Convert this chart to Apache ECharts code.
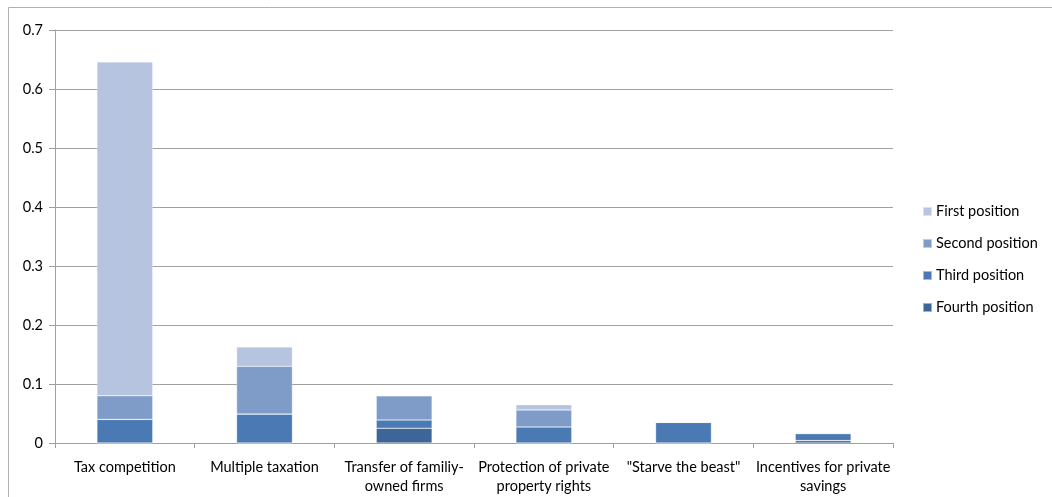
<!DOCTYPE html>
<html><head><meta charset="utf-8">
<script src="https://cdn.jsdelivr.net/npm/echarts@6/dist/echarts.min.js"></script>
<style>html,body{margin:0;padding:0;background:#fff}#c{width:1052px;height:497px}</style>
</head><body><div id="c"></div>
<script>
const categories = ["Tax competition", "Multiple taxation", "Transfer of familiy-\nowned firms", "Protection of private\nproperty rights", "\"Starve the beast\"", "Incentives for private\nsavings"];
const firstPosition  = [0.566, 0.033, 0,     0.009, 0,     0];
const secondPosition = [0.040, 0.081, 0.041, 0.029, 0,     0];
const thirdPosition  = [0.040, 0.049, 0.014, 0.027, 0.035, 0.012];
const fourthPosition = [0,     0,     0.025, 0,     0,     0.004];
const yTicks = { min: 0, max: 0.7, interval: 0.1 };

const font = "Lato, 'Open Sans', sans-serif";
const chart = echarts.init(document.getElementById('c'), null, {renderer: 'canvas'});
function s(name, data, color) {
  return { name, type: 'bar', stack: 'all', data, barWidth: '40%',
    itemStyle: { color, borderColor: 'rgba(255,255,255,0.5)', borderWidth: 0.6 },
    emphasis: { disabled: true } };
}
chart.setOption({
  animation: false,
  backgroundColor: '#fff',
  graphic: [{ type: 'rect', shape: { x: 8.5, y: 7.5, width: 1100, height: 600 },
    style: { fill: 'none', stroke: '#b0b0b0', lineWidth: 1 }, silent: true }],
  grid: { left: 55, right: 159, top: 30, bottom: 54 },
  legend: {
    orient: 'vertical', left: 917, top: 199, itemWidth: 9, itemHeight: 9, itemGap: 17,
    icon: 'rect',
    data: ['First position', 'Second position', 'Third position', 'Fourth position'],
    textStyle: { fontFamily: font, fontSize: 14.5, color: '#000', padding: [0, 0, 0, -1] }
  },
  xAxis: {
    type: 'category', data: categories,
    axisLine: { lineStyle: { color: '#a0a0a0', width: 1 } },
    axisTick: { show: true, length: 5, lineStyle: { color: '#a0a0a0' } },
    axisLabel: { fontFamily: font, fontSize: 14.5, color: '#000', margin: 15, lineHeight: 19, interval: 0 }
  },
  yAxis: {
    type: 'value', min: yTicks.min, max: yTicks.max, interval: yTicks.interval,
    axisLine: { show: true, lineStyle: { color: '#a0a0a0', width: 1 } },
    axisTick: { show: true, length: 6, lineStyle: { color: '#a0a0a0' } },
    splitLine: { lineStyle: { color: '#a0a0a0', width: 1 } },
    axisLabel: { fontFamily: font, fontSize: 14.5, color: '#000', margin: 12,
      formatter: v => (Math.round(v * 10) / 10).toString() }
  },
  series: [
    s('Fourth position', fourthPosition, '#3d6598'),
    s('Third position', thirdPosition, '#4a79b3'),
    s('Second position', secondPosition, '#7f9bc8'),
    s('First position', firstPosition, '#b6c4df')
  ]
});
</script></body></html>
